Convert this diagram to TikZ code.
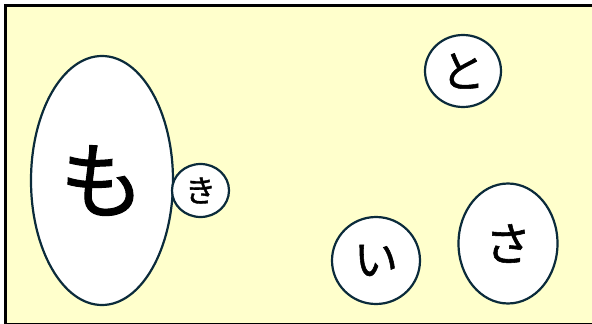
\documentclass[tikz,border=0pt]{standalone}
\usepackage{fontspec}
\newfontfamily\jpfont[FakeBold=1.2]{Noto Sans CJK JP}
\usetikzlibrary{shapes.geometric}
\definecolor{paper}{HTML}{FFFFCC}
\definecolor{rim}{HTML}{0B2B3B}

\begin{document}
\begin{tikzpicture}[x=1pt,y=-1pt,
  blob/.style={ellipse,draw=rim,line width=2.2pt,fill=white,inner sep=0pt,
               text=black},
  frame/.style={draw=black,line width=3pt,fill=paper}
]
\useasboundingbox (0,0) rectangle (592,324);
\path[frame] (5,5) rectangle (610,324);

\node[blob,minimum width=142pt,minimum height=249pt,font=\jpfont\fontsize{84}{84}\selectfont] (mo)  at (102,180.5) {も};
\node[blob,minimum width=57pt,minimum height=53pt,font=\jpfont\fontsize{31}{31}\selectfont]   (ki)  at (200.5,190.5) {き};
\node[blob,minimum width=76pt,minimum height=72pt,font=\jpfont\fontsize{44}{44}\selectfont]   (to)  at (463,71) {と};
\node[blob,minimum width=88pt,minimum height=87pt,font=\jpfont\fontsize{44}{44}\selectfont]   (i)   at (376,260.5) {い};
\node[blob,minimum width=99pt,minimum height=120pt,font=\jpfont\fontsize{46}{46}\selectfont]  (sa)  at (508,243.5) {さ};
\end{tikzpicture}
\end{document}
